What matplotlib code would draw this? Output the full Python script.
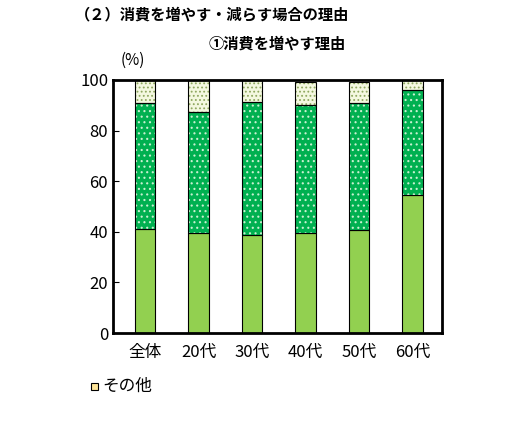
import numpy as np
import matplotlib.pyplot as plt

plt.rcParams['font.family'] = ['Noto Sans CJK JP', 'DejaVu Sans']
plt.rcParams['hatch.linewidth'] = 0.8

categories = ['全体', '20代', '30代', '40代', '50代', '60代']
reason_a = [41.0, 39.5, 38.7, 39.5, 40.7, 54.5]
reason_b = [50.0, 48.0, 52.5, 50.5, 50.3, 41.5]
other = [9.0, 12.5, 8.8, 9.3, 8.2, 4.0]
other_label = 'その他'

fig = plt.figure(figsize=(5.11, 4.30), dpi=100)
ax = fig.add_axes([113 / 511, 1 - 333 / 430, 329 / 511, 253 / 430])

x = np.arange(len(categories))
w = 0.38
bottom2 = np.array(reason_a) + np.array(reason_b)
ax.bar(x, reason_a, w, color='#92d050', edgecolor='black', linewidth=0.8)
# hatch drawn in white, outline added on top
ax.bar(x, reason_b, w, bottom=reason_a, color='#00b050', edgecolor='#c8f0d0',
       linewidth=0, hatch='...')
ax.bar(x, other, w, bottom=bottom2, color='#f4f8e0', edgecolor='#8fa860',
       linewidth=0, hatch='....')
ax.bar(x, reason_b, w, bottom=reason_a, fill=False, edgecolor='black', linewidth=0.8)
ax.bar(x, other, w, bottom=bottom2, fill=False, edgecolor='black', linewidth=0.8)

ax.set_ylim(0, 100)
ax.set_xlim(-0.6, 5.55)
ax.set_yticks(range(0, 101, 20))
ax.set_xticks(x)
ax.set_xticklabels(categories, fontsize=12)
ax.tick_params(axis='y', labelsize=12, direction='in', length=4)
ax.tick_params(axis='x', length=0, pad=8)
for s in ax.spines.values():
    s.set_linewidth(2)

fig.text(75 / 511, 1 - 14 / 430, '（２）消費を増やす・減らす場合の理由', fontsize=11,
         fontweight='bold', va='center')
fig.text(277 / 511, 1 - 44 / 430, '①消費を増やす理由', fontsize=11,
         fontweight='bold', va='center', ha='center')
fig.text(133 / 511, 1 - 60 / 430, '(%)', fontsize=11, va='center', ha='center')

fig.patches.append(plt.Rectangle((91 / 511, 1 - 390 / 430), 7 / 511, 7 / 430,
                                 transform=fig.transFigure, facecolor='#ffe699',
                                 edgecolor='black', linewidth=0.8))
fig.text(102 / 511, 1 - 386 / 430, other_label, fontsize=12, va='center')

fig.savefig('out.png', dpi=100)
